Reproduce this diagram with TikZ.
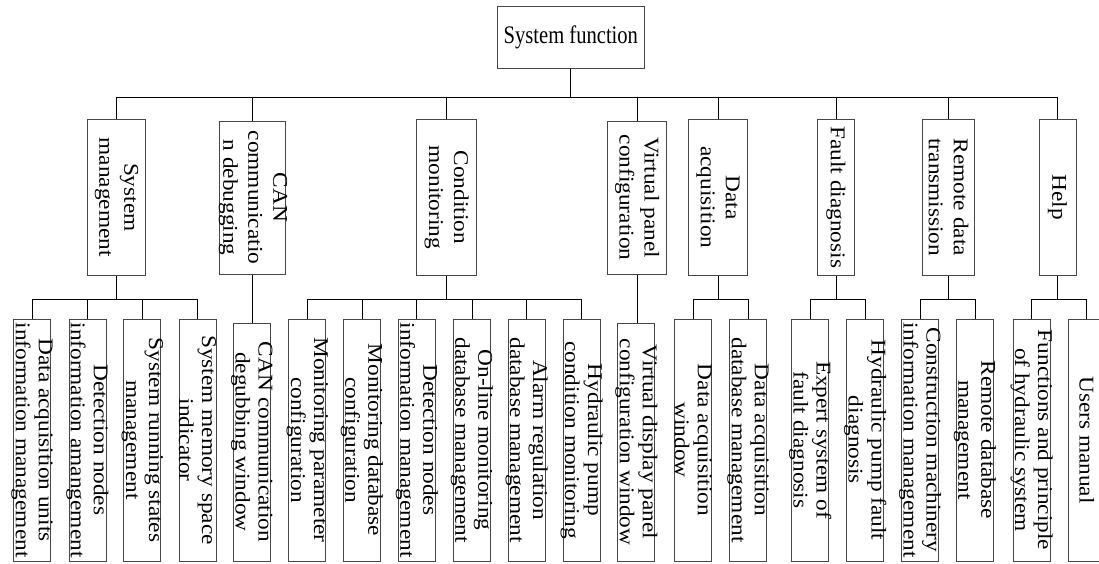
\documentclass[tikz,border=0pt]{standalone}
\usepackage{graphicx}
\usepackage{fontspec}
\setmainfont{Liberation Serif}
\begin{document}
\begin{tikzpicture}[x=1pt,y=-1pt,
  frame/.style={draw=black!72, line width=1pt, inner sep=0pt},
  rootbox/.style={frame, minimum width=146.3pt, minimum height=61.3pt,
    font=\fontsize{21}{24}\selectfont},
  midbox/.style={frame, minimum height=156.7pt},
  midboxs/.style={frame, minimum height=153pt},
  leaf/.style={frame, minimum width=37pt, minimum height=242pt},
  leafs/.style={frame, minimum width=37pt, minimum height=238pt},
  vtext/.style={rotate=-90, xscale=1.11, align=center, inner sep=0pt,
    font=\fontsize{21}{23}\selectfont},
  vtextm/.style={vtext, font=\fontsize{21}{25}\selectfont},
  link/.style={draw=black, line width=1pt}]
\useasboundingbox (0,0) rectangle (1099,563);
\clip (0,0) rectangle (1099,563);

% levels of the tree
\coordinate (bus) at (0,97.3);
\coordinate (lowbus) at (0,299);

% root
\node[rootbox] (root) at (570.85,37.35) {\scalebox{0.98}[1.2]{System function}};

% second level
\node[midbox,  minimum width=58.4pt] (m1) at (116.5,197.35) {};
\node[midboxs, minimum width=65.7pt] (m2) at (252.15,197.5) {};
\node[midbox,  minimum width=60pt]   (m3) at (446.7,197.35) {};
\node[midboxs, minimum width=59pt]   (m4) at (637.2,197.5) {};
\node[midbox,  minimum width=59.4pt] (m5) at (718,197.35) {};
\node[midbox,  minimum width=36.6pt] (m6) at (836,197.35) {};
\node[midbox,  minimum width=51.6pt] (m7) at (948.5,197.35) {};
\node[midbox,  minimum width=37pt]   (m8) at (1057.5,197.35) {};

\node[vtextm] (tm1) at (m1) {System\\management};
\node[vtextm] (tm2) at ([xshift=1pt]m2) {CAN\\communicatio\\n debugging};
\node[vtextm] (tm3) at (m3) {Condition\\monitoring};
\node[vtextm] (tm4) at (m4) {Virtual panel\\configuration};
\node[vtextm] (tm5) at (m5) {Data\\acquisition};
\node[vtextm] (tm6) at (m6) {Fault diagnosis};
\node[vtextm] (tm7) at (m7) {Remote data\\transmission};
\node[vtextm] (tm8) at (m8) {Help};

% third level
\node[leaf]  (c1)  at (32,440) {};
\node[leaf]  (c2)  at (87.5,440) {};
\node[leaf]  (c3)  at (142.3,440) {};
\node[leaf]  (c4)  at (197.5,440) {};
\node[leafs] (c5)  at (251.7,442) {};
\node[leaf]  (c6)  at (307.4,440) {};
\node[leaf]  (c7)  at (362,440) {};
\node[leaf]  (c8)  at (416.8,440) {};
\node[leaf]  (c9)  at (472,440) {};
\node[leaf]  (c10) at (526.7,440) {};
\node[leaf]  (c11) at (581.7,440) {};
\node[leafs] (c12) at (636.4,442) {};
\node[leaf]  (c13) at (693.3,440) {};
\node[leaf]  (c14) at (748,440) {};
\node[leaf]  (c15) at (810.3,440) {};
\node[leaf]  (c16) at (865.3,440) {};
\node[leaf]  (c17) at (920.2,440) {};
\node[leaf]  (c18) at (975,440) {};
\node[leaf]  (c19) at (1031.7,440) {};
\node[leaf]  (c20) at (1086.7,440) {};

\node[vtext] (tc1)  at (c1)  {Data acquisition units\\information management};
\node[vtext] (tc2)  at (c2)  {Detection nodes\\information amangement};
\node[vtext] (tc3)  at (c3)  {System running states\\management};
\node[vtext] (tc4)  at (c4)  {System memory space\\indicator};
\node[vtext] (tc5)  at (c5)  {CAN communication\\degubbing window};
\node[vtext] (tc6)  at (c6)  {Monitoring parameter\\configuration};
\node[vtext] (tc7)  at (c7)  {Monitoring database\\configuration};
\node[vtext] (tc8)  at (c8)  {Detection nodes\\information management};
\node[vtext] (tc9)  at (c9)  {On-line monitoring\\database management};
\node[vtext] (tc10) at (c10) {Alarm regulation\\database management};
\node[vtext] (tc11) at (c11) {Hydraulic pump\\condition monitoring};
\node[vtext] (tc12) at (c12) {Virtual display panel\\configuration window};
\node[vtext] (tc13) at (c13) {Data acquisition\\window};
\node[vtext] (tc14) at (c14) {Data acquisition\\database management};
\node[vtext] (tc15) at (c15) {Expert system of\\fault diagnosis};
\node[vtext] (tc16) at (c16) {Hydraulic pump fault\\diagnosis};
\node[vtext] (tc17) at (c17) {Construction machinery\\information management};
\node[vtext] (tc18) at (c18) {Remote database\\management};
\node[vtext] (tc19) at (c19) {Functions and principle\\of hydraulic system};
\node[vtext] (tc20) at (c20) {Users manual};

% connectors: root to second level
\foreach \m in {m1,m2,m3,m4,m5,m6,m7,m8}
  \draw[link] (root.south) -- (root.south |- bus) -| (\m.north);

% connectors: second level to third level
\foreach \c in {c1,c2,c3,c4}
  \draw[link] (m1.south) -- (m1.south |- lowbus) -| (\c.north);
\draw[link] (m2.south) -- (m2.south |- c5.north);
\foreach \c in {c6,c7,c8,c9,c10,c11}
  \draw[link] (m3.south) -- (m3.south |- lowbus) -| (\c.north);
\draw[link] (m4.south) -- (m4.south |- c12.north);
\foreach \c in {c13,c14}
  \draw[link] (m5.south) -- (m5.south |- lowbus) -| (\c.north);
\foreach \c in {c15,c16}
  \draw[link] (m6.south) -- (m6.south |- lowbus) -| (\c.north);
\foreach \c in {c17,c18}
  \draw[link] (m7.south) -- (m7.south |- lowbus) -| (\c.north);
\foreach \c in {c19,c20}
  \draw[link] (m8.south) -- (m8.south |- lowbus) -| (\c.north);
\end{tikzpicture}
\end{document}
